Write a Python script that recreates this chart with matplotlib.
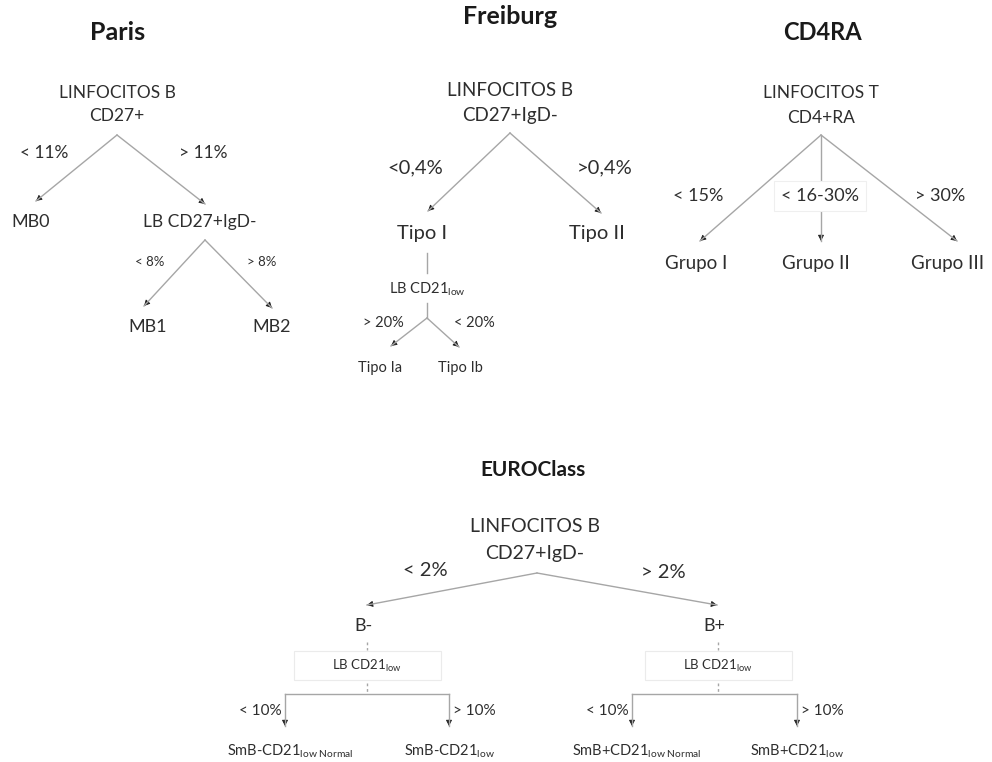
import matplotlib.pyplot as plt
from matplotlib.patches import FancyArrowPatch, Rectangle

plt.rcParams['font.family'] = ['Lato', 'DejaVu Sans']
plt.rcParams['mathtext.fontset'] = 'custom'
plt.rcParams['mathtext.rm'] = 'Lato'
plt.rcParams['mathtext.it'] = 'Lato:italic'

TXT = '#2e2e2e'
LINE = '#a6a6a6'
HEAD = '#1e1e1e'

# titles
titles = ['Paris', 'Freiburg', 'CD4RA', 'EUROClass']

# Paris
paris_root = ['LINFOCITOS B', 'CD27+']
paris_cuts = ['< 11%', '> 11%']
paris_nodes = ['MB0', 'LB CD27+IgD-']
paris_sub_cuts = ['< 8%', '> 8%']
paris_sub_nodes = ['MB1', 'MB2']

# Freiburg
frei_root = ['LINFOCITOS B', 'CD27+IgD-']
frei_cuts = ['<0,4%', '>0,4%']
frei_nodes = ['Tipo I', 'Tipo II']
frei_marker = r'LB CD21$_{\mathrm{low}}$'
frei_sub_cuts = ['> 20%', '< 20%']
frei_sub_nodes = ['Tipo Ia', 'Tipo Ib']

# CD4RA
cd4_root = ['LINFOCITOS T', 'CD4+RA']
cd4_cuts = ['< 15%', '< 16-30%', '> 30%']
cd4_nodes = ['Grupo I', 'Grupo II', 'Grupo III']

# EUROClass
euro_root = ['LINFOCITOS B', 'CD27+IgD-']
euro_cuts = ['< 2%', '> 2%']
euro_nodes = ['B-', 'B+']
euro_marker = r'LB CD21$_{\mathrm{low}}$'
euro_sub_cuts = ['< 10%', '> 10%']
euro_sub_nodes = [[r'SmB-CD21$_{\mathrm{low\ Normal}}$', r'SmB-CD21$_{\mathrm{low}}$'],
                  [r'SmB+CD21$_{\mathrm{low\ Normal}}$', r'SmB+CD21$_{\mathrm{low}}$']]

fig = plt.figure(figsize=(9.92, 7.62), dpi=100)
ax = fig.add_axes([0, 0, 1, 1])
ax.set_xlim(0, 992)
ax.set_ylim(762, 0)
ax.axis('off')


def label(x, y, s, size, **kw):
    return ax.text(x, y, s, fontsize=size, color=TXT, ha=kw.pop('ha', 'center'),
                   va='center', **kw)


def title(x, y, s, size=18):
    ax.text(x, y, s, fontsize=size, fontweight='bold', color='#1a1a1a',
            ha='center', va='center')


def arrow(x0, y0, x1, y1):
    # grey shaft, small dark head
    ax.plot([x0, x1], [y0, y1], color=LINE, lw=1.0)
    d = ((x1 - x0) ** 2 + (y1 - y0) ** 2) ** 0.5
    hx, hy = x1 - (x1 - x0) / d * 6, y1 - (y1 - y0) / d * 6
    ax.add_patch(FancyArrowPatch((hx, hy), (x1, y1),
                                 arrowstyle='-|>,head_length=3.5,head_width=1.8',
                                 mutation_scale=1, lw=0.6, color=HEAD,
                                 shrinkA=0, shrinkB=0))


def line(x0, y0, x1, y1, **kw):
    ax.plot([x0, x1], [y0, y1], color=LINE, lw=1.0, **kw)


# ---- Paris
title(118, 32, titles[0])
label(117, 93, paris_root[0], 12.5)
label(117, 116, paris_root[1], 12.5)
arrow(117, 135, 36, 201)
arrow(117, 135, 205, 204)
label(44, 153, paris_cuts[0], 12.5)
label(203, 153, paris_cuts[1], 12.5)
label(31, 222, paris_nodes[0], 13)
label(200, 222, paris_nodes[1], 12.5)
arrow(205, 240, 144, 306)
arrow(205, 240, 272, 308)
label(150, 262, paris_sub_cuts[0], 9.5)
label(262, 262, paris_sub_cuts[1], 9.5)
label(148, 327, paris_sub_nodes[0], 13)
label(272, 327, paris_sub_nodes[1], 13)

# ---- Freiburg
title(510, 16, titles[1])
label(510, 91, frei_root[0], 13.5)
label(510, 115, frei_root[1], 13.5)
arrow(510, 133, 428, 211)
arrow(510, 133, 601, 213)
label(415, 168, frei_cuts[0], 14.5)
label(605, 168, frei_cuts[1], 14.5)
label(422, 233, frei_nodes[0], 14.5)
label(597, 233, frei_nodes[1], 14.5)
line(427, 253, 427, 273)
label(427, 289, frei_marker, 10.5)
line(427, 303, 427, 318)
arrow(427, 318, 391, 346)
arrow(427, 318, 459, 347)
label(383, 323, frei_sub_cuts[0], 10.5)
label(474, 323, frei_sub_cuts[1], 10.5)
label(380, 368, frei_sub_nodes[0], 10.5)
label(460, 368, frei_sub_nodes[1], 10.5)

# ---- CD4RA
title(822, 32, titles[2], 17)
label(821, 93, cd4_root[0], 12.5)
label(821, 118, cd4_root[1], 12.5)
arrow(821, 135, 700, 241)
arrow(821, 135, 821, 241)
arrow(821, 135, 957, 241)
label(698, 196, cd4_cuts[0], 13)
label(820, 196, cd4_cuts[1], 13,
      bbox=dict(boxstyle='square,pad=0.4', fc='white', ec='#efefef', lw=0.8))
label(940, 196, cd4_cuts[2], 13)
for x, s in zip([696, 816, 948], cd4_nodes):
    label(x, 263, s, 13.5)

# ---- EUROClass
title(533, 470, titles[3], 15)
label(535, 527, euro_root[0], 14)
label(535, 553, euro_root[1], 14)
arrow(537, 573, 367, 605)
arrow(537, 573, 717, 605)
label(425, 571, euro_cuts[0], 14.5)
label(663, 573, euro_cuts[1], 14.5)

for cx, node, (lx, rx), leaves in zip([367, 718], euro_nodes,
                                      [(285, 449), (632, 797)], euro_sub_nodes):
    label(cx - 4, 626, node, 13)
    line(cx, 642, cx, 650, ls=(0, (2, 2)))
    ax.add_patch(Rectangle((cx - 73, 651), 147, 29, fill=False, ec='#ebebeb', lw=0.8))
    label(cx, 666, euro_marker, 9.5)
    line(cx, 683, cx, 694, ls=(0, (2, 2)))
    line(lx, 694, rx, 694)
    arrow(lx, 694, lx, 726)
    arrow(rx, 694, rx, 726)
    label(lx - 3, 711, euro_sub_cuts[0], 11, ha='right')
    label(rx + 4, 711, euro_sub_cuts[1], 11, ha='left')
    label(lx + 5, 751, leaves[0], 10.5)
    label(rx, 751, leaves[1], 10.5)

fig.savefig('out.png', dpi=100, facecolor='white')
